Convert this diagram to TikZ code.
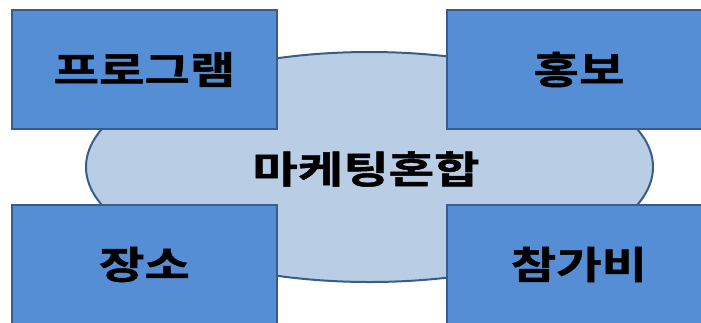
\documentclass[tikz,border=0pt]{standalone}
\usepackage{fontspec}
\usetikzlibrary{shapes.geometric}
\newfontfamily\kr{Noto Sans CJK KR Bold}[FakeStretch=1.3,FakeBold=1.3]
\definecolor{boxfill}{RGB}{85,142,213}
\definecolor{boxline}{RGB}{56,93,138}
\definecolor{ellfill}{RGB}{185,205,229}
\begin{document}
\begin{tikzpicture}[x=1pt,y=-1pt,
  boxnode/.style={draw=boxline,fill=boxfill,line width=2pt,minimum width=265pt,minimum height=119pt,inner sep=0pt,font=\kr\fontsize{38}{42}\selectfont},
  ellnode/.style={ellipse,draw=boxline,fill=ellfill,line width=2pt,minimum width=567pt,minimum height=230pt,inner sep=0pt,font=\kr\fontsize{38}{42}\selectfont}]
\useasboundingbox (0,0) rectangle (701,322);
\fill[white] (0,0) rectangle (701,322);
\node[ellnode] (mix) at (369.5,167) {};
\node (mixtext) at (366,169) [font=\kr\fontsize{38}{42}\selectfont] {마케팅혼합};
\node[boxnode] (prog) at (144.5,69.5) {프로그램};
\node[boxnode] (promo) at (579,69.5) {홍보};
\node[boxnode] (place) at (144.5,264.5) {장소};
\node[boxnode] (fee) at (579,264.5) {참가비};
\end{tikzpicture}
\end{document}
